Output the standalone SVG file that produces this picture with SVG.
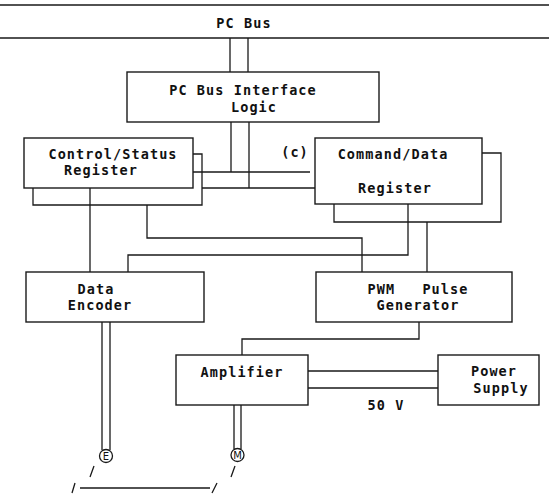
<svg xmlns="http://www.w3.org/2000/svg" width="549" height="495" viewBox="0 0 549 495">
<style>
.box{fill:#fff;stroke:#1a1a1a;stroke-width:1.4}
.ln{fill:none;stroke:#1a1a1a;stroke-width:1.3}
.t{font-family:"DejaVu Sans Mono","Liberation Mono",monospace;font-size:13.5px;font-weight:bold;letter-spacing:1.1px;fill:#111;text-anchor:middle}
.s{font-family:"DejaVu Sans",sans-serif;font-size:10px;fill:#111;text-anchor:middle}
</style>
<rect width="549" height="495" fill="#fff"/>
<g id="connectors">
<path class="ln" d="M0,5H549M0,38H549"/>
<path class="ln" d="M230,38V72M248,38V72"/>
<path class="ln" d="M231,122V172M249,122V188"/>
<path class="ln" d="M193,172H310M202,188H315"/>
<path class="ln" d="M193,154H202V205H33V188"/>
<path class="ln" d="M147,205V238H362V272"/>
<path class="ln" d="M90,188V272"/>
<path class="ln" d="M482,153H501V222H334V204"/>
<path class="ln" d="M408,204V255H128V272"/>
<path class="ln" d="M427,222V272"/>
<path class="ln" d="M419,322V339H242V355"/>
<path class="ln" d="M308,371H438M308,388H438"/>
<path class="ln" d="M102,322V450M110,322V450"/>
<path class="ln" d="M234,405V449M241,405V449"/>
<path class="ln" d="M94,466L90,477M235,466L231,477"/>
<path class="ln" d="M75,483L72,493M80,488H210M217,483L212,493"/>
</g>
<g id="pcbus"><text class="t" x="244" y="28">PC Bus</text></g>
<g id="interface">
<rect class="box" x="127" y="72" width="252" height="50"/>
<text class="t" x="243" y="95">PC Bus Interface</text>
<text class="t" x="254" y="112">Logic</text>
</g>
<g id="control">
<rect class="box" x="24" y="138" width="169" height="50"/>
<text class="t" x="113" y="159">Control/Status</text>
<text class="t" x="101" y="175">Register</text>
</g>
<g id="c-label"><text class="t" x="295" y="157">(c)</text></g>
<g id="command">
<rect class="box" x="315" y="138" width="167" height="66"/>
<text class="t" x="393" y="159">Command/Data</text>
<text class="t" x="395" y="193">Register</text>
</g>
<g id="encoder">
<rect class="box" x="26" y="272" width="178" height="50"/>
<text class="t" x="96" y="294">Data</text>
<text class="t" x="100" y="310">Encoder</text>
</g>
<g id="pwm">
<rect class="box" x="316" y="272" width="196" height="50"/>
<text class="t" x="418" y="294" word-spacing="18">PWM Pulse</text>
<text class="t" x="418" y="310">Generator</text>
</g>
<g id="amplifier">
<rect class="box" x="176" y="355" width="132" height="50"/>
<text class="t" x="242" y="377">Amplifier</text>
</g>
<g id="power">
<rect class="box" x="438" y="355" width="101" height="50"/>
<text class="t" x="494" y="376">Power</text>
<text class="t" x="501" y="393">Supply</text>
</g>
<g id="v50"><text class="t" x="386" y="410">50 V</text></g>
<g id="encoderE">
<circle class="ln" cx="106" cy="456" r="6.5" fill="#fff"/>
<text class="s" x="106" y="459.5">E</text>
</g>
<g id="motorM">
<circle class="ln" cx="237.5" cy="455" r="6.5" fill="#fff"/>
<text class="s" x="237.5" y="458.5">M</text>
</g>
</svg>
